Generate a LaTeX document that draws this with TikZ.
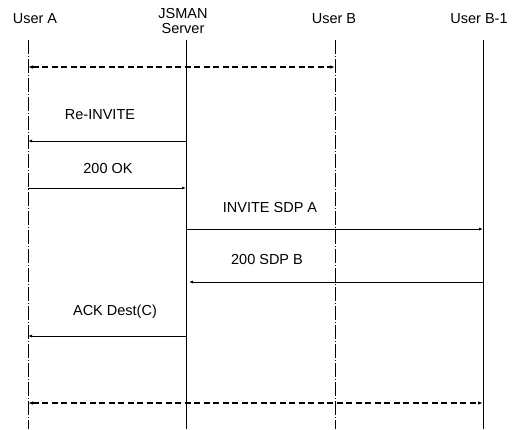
\documentclass[tikz,border=0pt]{standalone}
\usepackage{fontspec}
\setmainfont{Liberation Sans}
\usetikzlibrary{arrows.meta}
\begin{document}
\begin{tikzpicture}[x=1pt,y=-1pt,
  lbl/.style={font=\fontsize{14.5}{15.5}\selectfont, inner sep=0pt},
  life/.style={line width=0.9pt},
  lifeb/.style={line width=0.7pt, dash pattern=on 14pt off 2pt on 1pt off 2pt},
  msg/.style={line width=0.8pt, -{Latex[length=4pt,width=3pt]}},
  dmsg/.style={line width=1.3pt, dash pattern=on 6pt off 3.5pt, {Latex[length=5pt,width=3.5pt]}-{Latex[length=5pt,width=3.5pt]}}
]
\useasboundingbox (0,0) rectangle (529,429);
% headers
\node[lbl] (hA) at (35,19) {User A};
\node[lbl, align=center] (hS) at (183,21) {JSMAN\\Server};
\node[lbl] (hB) at (334,19) {User B};
\node[lbl] (hB1) at (479,19) {User B-1};
% lifelines
\coordinate (At) at (28,40);   \coordinate (Ab) at (28,429);
\coordinate (St) at (186,40);  \coordinate (Sb) at (186,429);
\coordinate (Bt) at (335,40);  \coordinate (Bb) at (335,429);
\coordinate (Ct) at (483,40);  \coordinate (Cb) at (483,429);
\draw[lifeb] (At) -- (Ab);
\draw[life] (St) -- (Sb);
\draw[lifeb] (Bt) -- (Bb);
\draw[life] (Ct) -- (Cb);
% message points
\coordinate (A1) at (28,67);  \coordinate (B1) at (335,67);
\coordinate (S2) at (186,141); \coordinate (A2) at (28,141);
\coordinate (A3) at (28,188); \coordinate (S3) at (186,188);
\coordinate (S4) at (186,229); \coordinate (C4) at (483,229);
\coordinate (C5) at (483,282); \coordinate (S5) at (189,282);
\coordinate (S6) at (186,336); \coordinate (A6) at (28,336);
\coordinate (A7) at (28,403); \coordinate (C7) at (483,403);
% messages
\draw[dmsg] (A1) -- (B1);
\draw[msg] (S2) -- (A2);
\node[lbl] (t2) at (100,115) {Re-INVITE};
\draw[msg] (A3) -- (S3);
\node[lbl] (t3) at (108,169) {200 OK};
\draw[msg] (S4) -- (C4);
\node[lbl] (t4) at (270,208) {INVITE SDP A};
\draw[msg] (C5) -- (S5);
\node[lbl] (t5) at (267,259) {200 SDP B};
\draw[msg] (S6) -- (A6);
\node[lbl] (t6) at (115,312) {ACK Dest(C)};
\draw[dmsg] (A7) -- (C7);
\end{tikzpicture}
\end{document}
